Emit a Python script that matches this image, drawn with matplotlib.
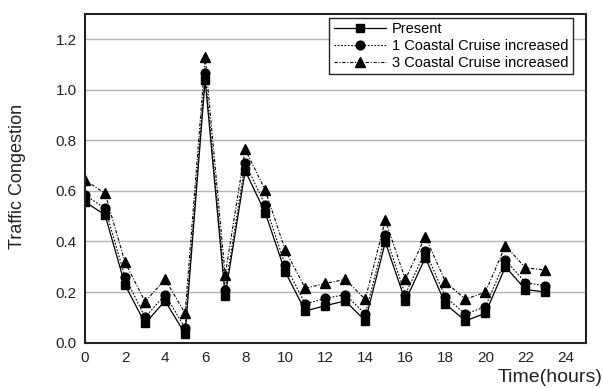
import matplotlib
matplotlib.use("Agg")
import matplotlib.pyplot as plt

plt.rcParams['font.family'] = ['Liberation Sans', 'DejaVu Sans']

hours = list(range(24))
present = [0.557, 0.505, 0.228, 0.076, 0.165, 0.034, 1.04, 0.184, 0.68, 0.514,
           0.28, 0.125, 0.146, 0.165, 0.086, 0.397, 0.165, 0.336, 0.153, 0.086,
           0.116, 0.30, 0.21, 0.20]
cruise1 = [0.584, 0.531, 0.26, 0.10, 0.19, 0.057, 1.067, 0.21, 0.71, 0.544,
           0.307, 0.153, 0.175, 0.19, 0.113, 0.425, 0.19, 0.362, 0.18, 0.113,
           0.142, 0.327, 0.237, 0.225]
cruise3 = [0.643, 0.59, 0.318, 0.162, 0.25, 0.116, 1.128, 0.267, 0.765, 0.603,
           0.366, 0.215, 0.234, 0.25, 0.171, 0.485, 0.25, 0.419, 0.241, 0.171,
           0.20, 0.383, 0.296, 0.287]
labels = ["Present", "1 Coastal Cruise increased", "3 Coastal Cruise increased"]
xticks = list(range(0, 25, 2))
yticks = [0.0, 0.2, 0.4, 0.6, 0.8, 1.0, 1.2]

fig = plt.figure(figsize=(6.03, 3.88), dpi=100)
ax = fig.add_axes([0.141, 0.117, 0.830, 0.847])

ax.plot(hours, present, color='black', lw=0.9, ls='-', marker='s', ms=6.3, label=labels[0])
ax.plot(hours, cruise1, color='black', lw=0.8, ls=(0, (1.5, 1.5)), marker='o', ms=6.3, label=labels[1])
ax.plot(hours, cruise3, color='black', lw=0.8, ls=(0, (3, 1.5, 1, 1.5)), marker='^', ms=7.2, label=labels[2])

ax.set_xlim(0, 25)
ax.set_ylim(0, 1.3)
ax.set_xticks(xticks)
ax.set_yticks(yticks)
ax.set_yticklabels([f"{v:.1f}" for v in yticks])
ax.tick_params(length=0, labelsize=11, colors='#222222', pad=6)
ax.yaxis.grid(True, color='#b5b5b5', lw=1.0)
ax.set_axisbelow(True)
for s in ax.spines.values():
    s.set_linewidth(1.5)
    s.set_color('#222222')

fig.text(18 / 603, 1 - 176 / 388, "Traffic Congestion", rotation=90, ha='center', va='center',
         fontsize=13, color='#222222')
fig.text(0.999, 0.027, "Time(hours)", ha='right', va='center', fontsize=14, color='#222222')

leg = ax.legend(loc='upper right', bbox_to_anchor=(573 / 603, 1 - 17.5 / 388),
                bbox_transform=fig.transFigure, fontsize=10.5, frameon=True, fancybox=False,
                edgecolor='#222222', framealpha=1, borderpad=0.3, labelspacing=0.2,
                handlelength=3.6, handletextpad=0.4, borderaxespad=0)
leg.get_frame().set_linewidth(1.0)

fig.savefig("out.png", dpi=100)
